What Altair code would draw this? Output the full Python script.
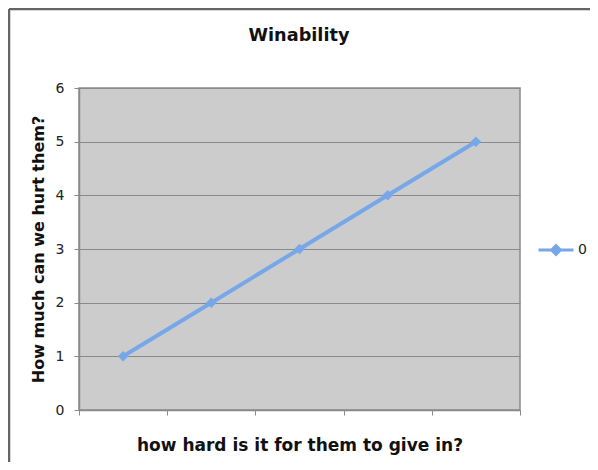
import altair as alt
import pandas as pd

# Data
categories = [1, 2, 3, 4, 5]
values = [1, 2, 3, 4, 5]
series = ["0"] * 5
y_ticks = [0, 1, 2, 3, 4, 5, 6]
x_ticks = [0.5, 1.5, 2.5, 3.5, 4.5, 5.5]
title_text = ["Winability"]

df = pd.DataFrame({"cat": categories, "val": values, "series": series})
tdf = pd.DataFrame({"t": title_text})

LINE = "#76a8e9"
FONT = "DejaVu Sans"

xenc = alt.X(
    "cat:Q",
    scale=alt.Scale(domain=[0.5, 5.5], nice=False, zero=False),
    axis=alt.Axis(
        values=x_ticks, labels=False, grid=False, tickSize=5,
        tickColor="#8a8a8a", domainColor="#8a8a8a", domainWidth=1.5,
        title="how hard is it for them to give in?", titleFont=FONT,
        titleFontSize=17, titleFontWeight="bold", titleColor="#111111",
        titlePadding=22,
    ),
)
yenc = alt.Y(
    "val:Q",
    scale=alt.Scale(domain=[0, 6], nice=False),
    axis=alt.Axis(
        values=y_ticks, format="d", grid=True, gridColor="#8a8a8a",
        gridWidth=1, tickSize=5, tickColor="#8a8a8a", domainColor="#8a8a8a",
        domainWidth=1.5, labelFont=FONT, labelFontSize=14, labelColor="#222222",
        labelPadding=10,
        title="How much can we hurt them?", titleFont=FONT, titleFontSize=16,
        titleFontWeight="bold", titleColor="#111111", titlePadding=9,
    ),
)

legend_symbol = "M-1,0H1M-0.25,0L0,-0.25L0.25,0L0,0.25Z"

color = alt.Color(
    "series:N",
    scale=alt.Scale(range=[LINE]),
    legend=alt.Legend(
        title=None, orient="none", legendX=458, legendY=143,
        symbolType=legend_symbol, symbolSize=1225, symbolStrokeWidth=3,
        symbolFillColor=LINE, symbolStrokeColor=LINE,
        labelFont=FONT, labelFontSize=14, labelColor="#222222", labelOffset=3,
    ),
)

line = alt.Chart(df).mark_line(strokeWidth=4).encode(x=xenc, y=yenc, color=color)
pts = alt.Chart(df).mark_point(shape="diamond", filled=True, size=110, opacity=1).encode(
    x="cat:Q", y="val:Q", color=alt.Color("series:N", legend=None)
)

frame_top = alt.Chart(tdf).mark_rule(color="#666666", strokeWidth=2.5).encode(
    x=alt.value(-70), x2=alt.value(530), y=alt.value(-79)
)
frame_left = alt.Chart(tdf).mark_rule(color="#666666", strokeWidth=2.5).encode(
    x=alt.value(-70), y=alt.value(-79), y2=alt.value(400)
)
title = alt.Chart(tdf).mark_text(
    font=FONT, fontSize=17.7, fontWeight="bold", color="#111111",
    align="center", baseline="alphabetic"
).encode(text="t:N", x=alt.value(220), y=alt.value(-47))

chart = (
    alt.layer(frame_top, frame_left, line, pts, title)
    .properties(
        width=441,
        height=322,
        autosize=alt.AutoSizeParams(type="none"),
        padding={"left": 71, "top": 80, "right": 70, "bottom": 52},
        background="white",
    )
    .configure_view(fill="#cccccc", stroke="#8a8a8a", strokeWidth=1.5)
)

chart.save("out.html", embed_options={"renderer": "svg", "actions": False})
